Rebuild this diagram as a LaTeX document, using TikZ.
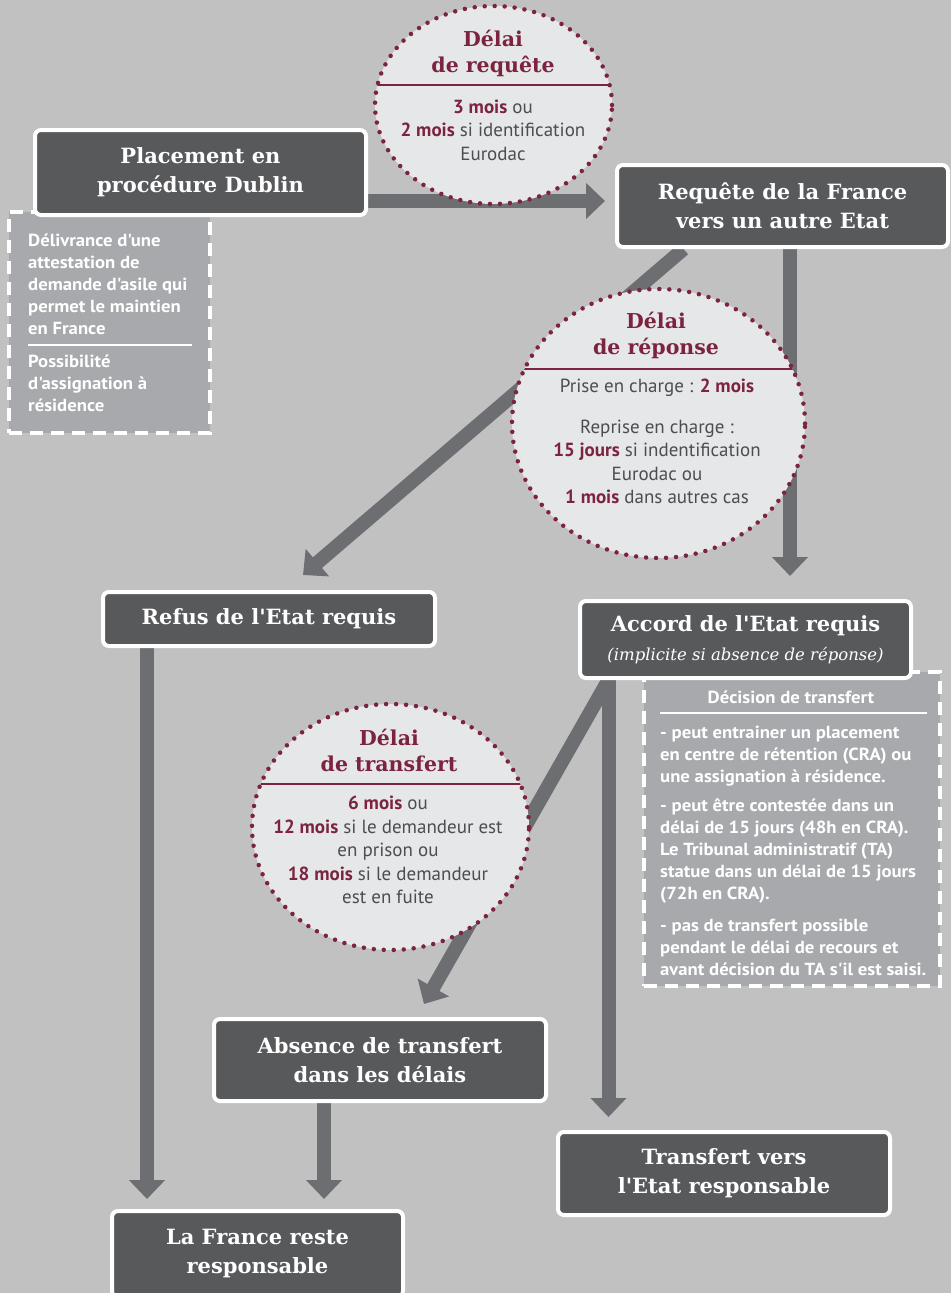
\documentclass[tikz,border=0pt]{standalone}
\usepackage{fontspec}
\setmainfont{PT Sans}
\newfontfamily\notefont{PT Sans}[FakeStretch=1.07]
\newfontfamily\slab{DejaVu Serif}
\usetikzlibrary{arrows.meta,shapes.geometric}

\definecolor{grisfond}{HTML}{C1C1C1}
\definecolor{grisboite}{HTML}{58595B}
\definecolor{grisfleche}{HTML}{6D6E71}
\definecolor{grisnote}{HTML}{A7A9AC}
\definecolor{grisbulle}{HTML}{E6E7E8}
\definecolor{bordeaux}{HTML}{7C2340}
\definecolor{gristexte}{HTML}{4D4D4F}

\newcommand{\gras}[1]{\textcolor{bordeaux}{\textbf{#1}}}

\pgfdeclarelayer{fond}
\pgfsetlayers{fond,main}

\begin{document}
\begin{tikzpicture}[
    x=1pt, y=-1pt,
    etape/.style={
        rectangle,
        rounded corners=6pt,
        draw=white,
        line width=4pt,
        fill=grisboite,
        text=white,
        align=center,
        inner sep=0pt,
        font=\slab\bfseries\fontsize{21}{29}\selectfont
    },
    bulle/.style={
        ellipse,
        draw=bordeaux,
        fill=grisbulle,
        line width=4.5pt,
        dash pattern=on 0pt off 10pt,
        line cap=round,
        inner sep=0pt
    },
    titre/.style={align=center, text=bordeaux, font=\slab\bfseries\fontsize{20.5}{26}\selectfont},
    corps/.style={align=center, text=gristexte, font=\fontsize{19}{23.5}\selectfont},
    note/.style={rectangle, draw=white, fill=grisnote, line width=4pt, dash pattern=on 13pt off 8pt},
    notetexte/.style={anchor=west, align=left, text=white, inner sep=0pt, font=\notefont\bfseries\fontsize{17.5}{22}\selectfont},
    fleche/.style={draw=grisfleche, line width=14pt, -{Triangle[length=19pt,width=35pt]}},
    trait/.style={line width=2pt}
]
    \useasboundingbox (0,0) rectangle (951,1293);

    % Encadrés en pointillés
    \node[note, minimum width=201pt, minimum height=221pt] (attest) at (109.5,322.5) {};
    \node[notetexte] (attest1) at (28,284)
         {Délivrance d'une\\attestation de\\demande d'asile qui\\permet le maintien\\en France};
    \draw[white, trait] (28,345) -- (192,345);
    \node[notetexte] (attest2) at (28,383) {Possibilité\\d'assignation à\\résidence};

    \node[note, minimum width=296pt, minimum height=314pt] (decision) at (792,829) {};
    \node[notetexte, anchor=center] (decision0) at (791,697) {Décision de transfert};
    \draw[white, trait] (660,713) -- (927,713);
    \node[notetexte] (decision1) at (660,756)
         {- peut entrainer un placement\\en centre de rétention (CRA) ou\\une assignation à résidence.};
    \node[notetexte] (decision2) at (660,851.5)
         {- peut être contestée dans un\\délai de 15 jours (48h en CRA).\\Le Tribunal administratif (TA)\\statue dans un délai de 15 jours\\(72h en CRA).};
    \node[notetexte] (decision3) at (660,947)
         {- pas de transfert possible\\pendant le délai de recours et\\avant décision du TA s'il est saisi.};

    % Etapes
    \node[etape, minimum width=331pt, minimum height=85pt] (placement) at (200.5,172.5)
         {Placement en\\procédure Dublin};
    \node[etape, minimum width=331pt, minimum height=82pt] (requete) at (782.5,206)
         {Requête de la France\\vers un autre Etat};
    \node[etape, minimum width=332pt, minimum height=54pt] (refus) at (269,619)
         {Refus de l'Etat requis};
    \node[etape, minimum width=331pt, minimum height=77pt] (accord) at (745.5,639.5)
         {Accord de l'Etat requis\\{\mdseries\itshape\fontsize{16.5}{24}\selectfont (implicite si absence de réponse)}};
    \node[etape, minimum width=332pt, minimum height=82pt] (absence) at (380,1060)
         {Absence de transfert\\dans les délais};
    \node[etape, minimum width=291pt, minimum height=86pt] (lafrance) at (257.5,1254)
         {La France reste\\responsable};
    \node[etape, minimum width=332pt, minimum height=83pt] (transfert) at (724,1173.5)
         {Transfert vers\\l'Etat responsable};

    % Délais
    \node[bulle, minimum width=237pt, minimum height=198pt] (dreq) at (493.5,105) {};
    \begin{scope}
        \clip (dreq.center) ellipse [x radius=118.5, y radius=99];
        \draw[bordeaux, trait] (dreq.west |- 0,85) -- (dreq.east |- 0,85);
    \end{scope}
    \node[titre] (dreq0) at (493,53.5) {Délai\\de requête};
    \node[corps] (dreq1) at (493,130) {\gras{3 mois} ou\\\gras{2 mois} si identification\\Eurodac};

    \node[bulle, minimum width=293pt, minimum height=269pt] (drep) at (658.5,423.5) {};
    \begin{scope}
        \clip (drep.center) ellipse [x radius=146.5, y radius=134.5];
        \draw[bordeaux, trait] (drep.west |- 0,369) -- (drep.east |- 0,369);
    \end{scope}
    \node[titre] (drep0) at (656,335) {Délai\\de réponse};
    \node[corps] (drep1) at (657,388) {Prise en charge : \gras{2 mois}};
    \node[corps] (drep2) at (657,462)
         {Reprise en charge :\\\gras{15 jours} si indentification\\Eurodac ou\\\gras{1 mois} dans autres cas};

    \node[bulle, minimum width=277pt, minimum height=246pt] (dtra) at (390.5,827) {};
    \begin{scope}
        \clip (dtra.center) ellipse [x radius=138.5, y radius=123];
        \draw[bordeaux, trait] (dtra.west |- 0,784) -- (dtra.east |- 0,784);
    \end{scope}
    \node[titre] (dtra0) at (389,750.5) {Délai\\de transfert};
    \node[corps] (dtra1) at (388,850)
         {\gras{6 mois} ou\\\gras{12 mois} si le demandeur est\\en prison ou\\\gras{18 mois} si le demandeur\\est en fuite};

    % Flèches
    \begin{pgfonlayer}{fond}
        \fill[grisfond] (0,0) rectangle (951,1293);
        \draw[fleche, shorten >=10pt] (placement.east |- 0,201) -- (requete.west |- 0,201);
        \draw[fleche, shorten >=23pt] ([xshift=7.5pt]requete.south) -- ([xshift=7.5pt]requete.south |- accord.north);
        \draw[fleche] ([xshift=-99pt]requete.south) -- ([xshift=34pt,yshift=15pt]refus.north);
        \draw[fleche, shorten >=13pt] ([xshift=-137pt]accord.south) -- ([xshift=-137pt]accord.south |- transfert.north);
        \draw[fleche] ([xshift=-137pt]accord.south) -- ([xshift=44pt,yshift=13pt]absence.north);
        \draw[fleche, shorten >=10pt] ([xshift=-122pt]refus.south) -- ([xshift=-122pt]refus.south |- lafrance.north);
        \draw[fleche, shorten >=10pt] ([xshift=-56pt]absence.south) -- ([xshift=-56pt]absence.south |- lafrance.north);
    \end{pgfonlayer}
\end{tikzpicture}
\end{document}
